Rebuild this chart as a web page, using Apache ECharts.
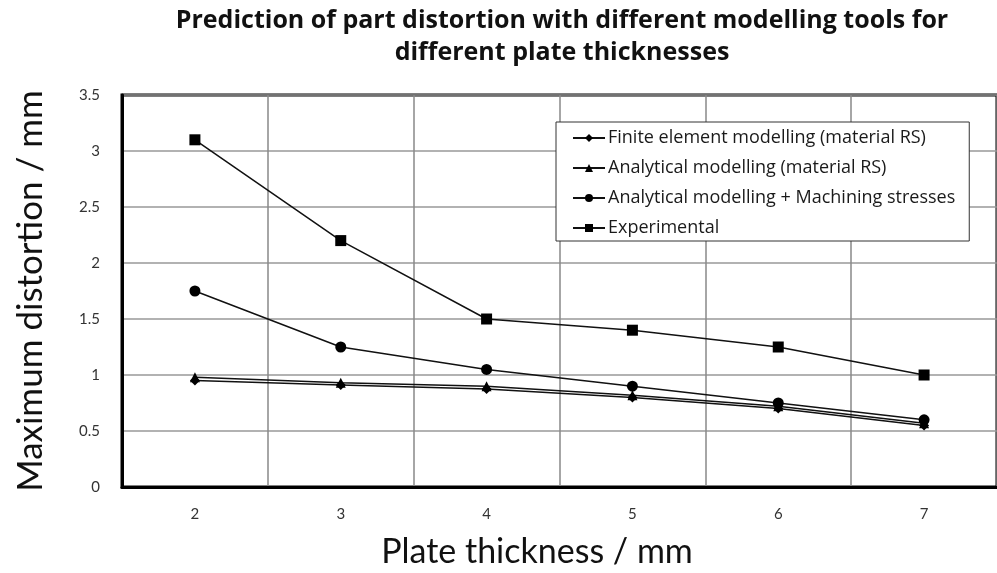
<!DOCTYPE html>
<html>
<head>
<meta charset="utf-8">
<script src="https://cdn.jsdelivr.net/npm/echarts@6/dist/echarts.min.js"></script>
<style>
  html, body { margin: 0; padding: 0; background: #fff; }
  #chart { width: 997px; height: 573px; }
</style>
</head>
<body>
<div id="chart"></div>
<script>
// Plate thickness categories (mm)
const thickness = ['2', '3', '4', '5', '6', '7'];

// Maximum distortion (mm) per modelling approach
const finiteElement = [0.95, 0.91, 0.875, 0.80, 0.70, 0.55];
const analyticalRS = [0.98, 0.93, 0.90, 0.82, 0.72, 0.57];
const analyticalMachining = [1.75, 1.25, 1.05, 0.90, 0.75, 0.60];
const experimental = [3.1, 2.2, 1.5, 1.4, 1.25, 1.0];

const yTicks = [0, 0.5, 1, 1.5, 2, 2.5, 3, 3.5];

const seriesNames = [
  'Finite element modelling (material RS)',
  'Analytical modelling (material RS)',
  'Analytical modelling + Machining stresses',
  'Experimental'
];

const FONT = 'Lato, "Open Sans", sans-serif';
const WIDE = '"Open Sans", Lato, sans-serif';

function lineSeries(name, data, symbol, size) {
  return {
    name: name,
    type: 'line',
    data: data,
    symbol: symbol,
    symbolSize: size,
    showSymbol: true,
    lineStyle: { color: '#111', width: 1.5 },
    itemStyle: { color: '#000' },
    emphasis: { disabled: true },
    animation: false
  };
}

const chart = echarts.init(document.getElementById('chart'), null, { renderer: 'canvas' });

chart.setOption({
  backgroundColor: '#fff',
  animation: false,
  graphic: [
    {
      type: 'text',
      x: 562, y: 8,
      style: {
        text: 'Prediction of part distortion with different modelling tools for',
        fill: '#111', font: 'bold 25px ' + WIDE, textAlign: 'center'
      }
    },
    {
      type: 'text',
      x: 562, y: 40,
      style: {
        text: 'different plate thicknesses',
        fill: '#111', font: 'bold 25px ' + WIDE, textAlign: 'center'
      }
    },
    {
      type: 'text',
      x: 537, y: 535,
      style: {
        text: 'Plate thickness / mm',
        fill: '#111', font: '34px ' + FONT, textAlign: 'center'
      }
    }
  ],
  legend: {
    orient: 'vertical',
    left: 556,
    top: 122,
    data: seriesNames,
    backgroundColor: '#fff',
    borderColor: '#333',
    borderWidth: 1,
    padding: [7, 14, 4, 16],
    itemGap: 12,
    itemWidth: 32,
    itemHeight: 10,
    textStyle: { fontFamily: WIDE, fontSize: 18, color: '#1a1a1a', padding: [0, 0, 0, -2] },
    selectedMode: false
  },
  grid: {
    left: 122,
    top: 95,
    width: 882,
    height: 392,
    show: true,
    borderColor: '#000',
    borderWidth: 3,
    containLabel: false
  },
  xAxis: {
    type: 'category',
    data: thickness,
    boundaryGap: true,
    axisLine: { show: true, lineStyle: { color: '#000', width: 3 } },
    axisTick: { show: false },
    axisLabel: { margin: 20, fontFamily: FONT, fontSize: 15, color: '#333' },
    splitLine: { show: true, interval: 0, lineStyle: { color: '#888', width: 1.5 } }
  },
  yAxis: {
    type: 'value',
    min: yTicks[0],
    max: yTicks[yTicks.length - 1],
    interval: 0.5,
    name: 'Maximum distortion / mm',
    nameLocation: 'middle',
    nameGap: 74,
    nameTextStyle: { fontFamily: FONT, fontSize: 35, color: '#111' },
    axisLine: { show: true, lineStyle: { color: '#000', width: 3 } },
    axisTick: { show: false },
    axisLabel: { margin: 22, fontFamily: FONT, fontSize: 15, color: '#333' },
    splitLine: { show: true, lineStyle: { color: '#999', width: 1.5 } }
  },
  series: [
    lineSeries(seriesNames[0], finiteElement, 'diamond', 10),
    lineSeries(seriesNames[1], analyticalRS, 'triangle', 10),
    lineSeries(seriesNames[2], analyticalMachining, 'circle', 11),
    lineSeries(seriesNames[3], experimental, 'rect', 11)
  ]
});
</script>
</body>
</html>
